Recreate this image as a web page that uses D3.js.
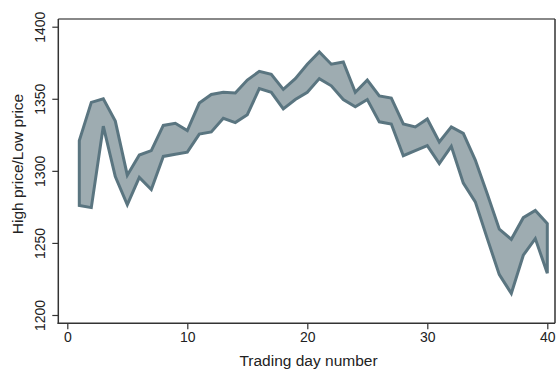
<!DOCTYPE html>
<html>
<head>
<meta charset="utf-8">
<script src="https://cdn.jsdelivr.net/npm/d3@7"></script>
<style>
  html, body { margin: 0; padding: 0; background: #fff; }
  svg { display: block; }
  text { font-family: "Liberation Sans", Arial, Helvetica, sans-serif; fill: #222; }
</style>
</head>
<body>
<svg id="chart" width="556" height="370"></svg>
<script>
const days = d3.range(1, 41);
const highPrice = [1321, 1347.5, 1350, 1334.5, 1297, 1311, 1314, 1331.5, 1333, 1328,
  1347, 1353, 1354.5, 1354, 1363, 1369, 1367, 1356.5, 1364, 1374,
  1382.5, 1374, 1375.5, 1354.5, 1363, 1352, 1350.5, 1332.5, 1330.5, 1336,
  1320, 1330.5, 1326, 1307.5, 1284, 1259.5, 1252.5, 1267.5, 1272.5, 1263.5];
const lowPrice = [1276, 1274.5, 1331, 1296, 1276.5, 1295.5, 1287, 1310, 1311.5, 1313,
  1325.5, 1327, 1336.5, 1333.5, 1339, 1357, 1354.5, 1343, 1349.5, 1354.5,
  1364, 1359, 1349.5, 1344.5, 1349.5, 1334, 1332.5, 1310.5, 1314, 1317.5,
  1305, 1317, 1291.5, 1278.5, 1253, 1228, 1215, 1241.5, 1253, 1229];
const xTicks = [0, 10, 20, 30, 40];
const yTicks = [1200, 1250, 1300, 1350, 1400];
const xTitle = "Trading day number";
const yTitle = "High price/Low price";

const svg = d3.select("#chart");
const x = d3.scaleLinear().domain([0, 40]).range([67.3, 547.3]);
const y = d3.scaleLinear().domain([1200, 1400]).range([315, 26.7]);

const frame = { left: 58.3, right: 555, top: 19, bottom: 323.3 };

const data = days.map((d, i) => ({ d, hi: highPrice[i], lo: lowPrice[i] }));

const area = d3.area()
  .x(p => x(p.d))
  .y0(p => y(p.lo))
  .y1(p => y(p.hi));

svg.append("path")
  .datum(data)
  .attr("d", area)
  .attr("fill", "#9eacb1")
  .attr("stroke", "#5a7580")
  .attr("stroke-width", 3)
  .attr("stroke-linejoin", "miter");

// frame: top and right
svg.append("line").attr("x1", frame.left).attr("x2", frame.right)
  .attr("y1", frame.top).attr("y2", frame.top)
  .attr("stroke", "#888").attr("stroke-width", 2);
svg.append("line").attr("x1", frame.right).attr("x2", frame.right)
  .attr("y1", frame.top).attr("y2", frame.bottom)
  .attr("stroke", "#333").attr("stroke-width", 1.5);

// axes
const yAxis = d3.axisLeft(y).tickValues(yTicks).tickSize(6).tickPadding(0).tickFormat(d3.format("d"));
const gy = svg.append("g").attr("transform", `translate(${frame.left},0)`).call(yAxis);
gy.select(".domain").remove();
gy.selectAll(".tick line").attr("stroke", "#333").attr("stroke-width", 1.2);
gy.selectAll(".tick text")
  .attr("x", 0).attr("y", 0)
  .attr("transform", "translate(-13.5,0) rotate(-90)")
  .attr("text-anchor", "middle")
  .attr("dy", 0)
  .style("font-size", "14px")
  .style("fill", "#222");
gy.append("line").attr("x1", 0).attr("x2", 0).attr("y1", frame.top).attr("y2", frame.bottom + 0.7)
  .attr("stroke", "#333").attr("stroke-width", 1.5);

const xAxis = d3.axisBottom(x).tickValues(xTicks).tickSize(6).tickPadding(3).tickFormat(d3.format("d"));
const gx = svg.append("g").attr("transform", `translate(0,${frame.bottom})`).call(xAxis);
gx.select(".domain").remove();
gx.selectAll(".tick line").attr("stroke", "#333").attr("stroke-width", 1.2);
gx.selectAll(".tick text")
  .attr("dy", "0.71em")
  .style("font-size", "14px")
  .style("fill", "#222");
gx.append("line").attr("x1", frame.left - 0.7).attr("x2", frame.right).attr("y1", 0).attr("y2", 0)
  .attr("stroke", "#333").attr("stroke-width", 1.5);

// titles
svg.append("text")
  .attr("x", 308.5)
  .attr("y", 366)
  .attr("text-anchor", "middle")
  .style("font-size", "15.5px")
  .text(xTitle);

svg.append("text")
  .attr("transform", `translate(23,164) rotate(-90)`)
  .attr("text-anchor", "middle")
  .style("font-size", "15.5px")
  .text(yTitle);
</script>
</body>
</html>
